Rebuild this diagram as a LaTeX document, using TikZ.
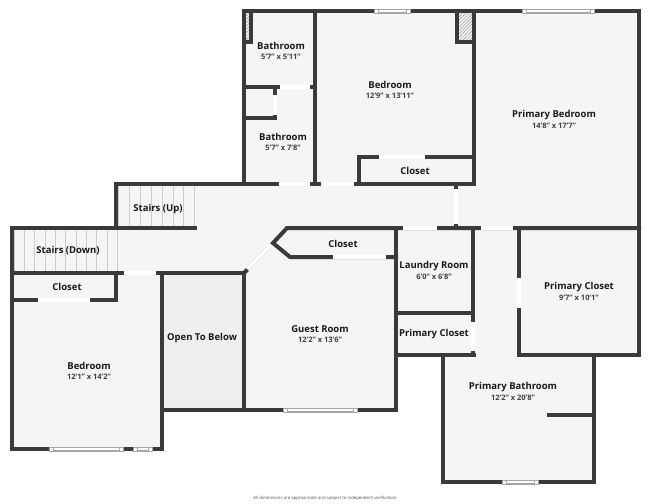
\documentclass[tikz,border=0pt]{standalone}
\usepackage{fontspec}
\setmainfont{Open Sans}
\usetikzlibrary{patterns.meta}
\definecolor{wallgray}{HTML}{3A3A3A}
\definecolor{floorgray}{HTML}{F5F5F5}
\definecolor{opengray}{HTML}{EFEFEF}
\tikzset{
	wall/.style={draw=wallgray, line width=4pt, line cap=rect, line join=miter},
	door/.style={draw=black!18, line width=.4pt, double=white, double distance=3.2pt},
	stair/.style={draw=black!20, line width=.6pt},
	glass/.style={draw=black!35, line width=.4pt, fill=white},
	flue/.style={pattern={Lines[angle=45,distance=2.4pt,line width=.5pt]}, pattern color=black!40},
	title/.style={font=\bfseries\fontsize{9.5}{11}\selectfont, text=black!90, inner sep=0pt, yshift=-.7pt},
	size/.style={font=\fontsize{7.5}{9}\selectfont\bfseries, text=black!75, inner sep=0pt, yshift=-.7pt}
}
\begin{document}
\begin{tikzpicture}[x=1pt, y=-1pt]
	\useasboundingbox (0, 0) rectangle (650, 503);

	\fill[floorgray] (244, 11) -- (639, 11) -- (639, 355) -- (594, 355) -- (594, 482) -- (443, 482) -- (443, 355) -- (396, 355) -- (396, 410) -- (162, 410) -- (162, 449) -- (12, 449) -- (12, 228) -- (116, 228) -- (116, 184) -- (244, 184) -- cycle;
	\fill[opengray] (162, 273) rectangle (244, 410);

	% stairs
	\foreach \x in { 118, 129, 140, 151, 162, 173, 183, 194 }
		\draw[stair] (\x, 184) -- (\x, 228);
	\foreach \x in { 14, 24, 34, 45, 55, 65, 76, 86, 96, 107, 117 }
		\draw[stair] (\x, 228) -- (\x, 273);

	% flues
	\fill[flue] (246, 13) rectangle (250, 41);
	\fill[flue] (459, 13) rectangle (473, 41);

	% walls
	\draw[wall] (244, 184) -- (244, 11) -- (639, 11) -- (639, 355) -- (519, 355) -- (519, 228);
	\draw[wall] (116, 228) -- (116, 184) -- (474, 184) -- (474, 11);
	\draw[wall] (315, 11) -- (315, 184);
	\draw[wall] (251, 11) -- (251, 42) -- (244, 42);
	\draw[wall] (457, 11) -- (457, 42) -- (474, 42);
	\draw[wall] (244, 87) -- (315, 87);
	\draw[wall] (244, 118) -- (275, 118) -- (275, 87);
	\draw[wall] (359, 184) -- (359, 157) -- (474, 157);
	\draw[wall] (456, 184) -- (456, 228);
	\draw[wall] (639, 228) -- (287, 228) -- (273, 243) -- (290, 257) -- (396, 257);
	\draw[wall] (473, 228) -- (473, 355);
	\draw[wall] (396, 228) -- (396, 410) -- (162, 410);
	\draw[wall] (396, 313) -- (473, 313);
	\draw[wall] (396, 355) -- (474, 355);
	\draw[wall] (443, 355) -- (443, 482) -- (594, 482) -- (594, 355);
	\draw[wall] (549, 415) -- (594, 415);
	\draw[wall] (244, 410) -- (244, 273) -- (12, 273);
	\draw[wall] (195, 228) -- (12, 228) -- (12, 449) -- (162, 449) -- (162, 273);
	\draw[wall] (116, 273) -- (116, 300) -- (12, 300);
	\draw[wall] (244, 273) -- (246, 271);

	% doors
	\foreach \xa/\ya/\xb/\yb in { 280/87/310/87, 275/95/275/115, 279/184/310/184, 321/184/354/184, 379/157/425/157,
		456/189/456/224, 403/228/437/228, 481/228/513/228, 333/257/386/257, 519/278/519/308, 473/322/473/351,
		124/273/156/273, 38/300/90/300, 271/245/248/268 }
		\draw[door] (\xa, \ya) -- (\xb, \yb);

	% windows
	\foreach \xa/\xb/\yy in { 374/410/11, 522/594/11, 502/538/482, 283/357/410, 49/123/449, 133/152/449 }
	{
		\fill[white] (\xa, \yy-2) rectangle (\xb, \yy+2);
		\draw[glass] (\xa, \yy-2) rectangle (\xb, \yy+2);
		\draw[glass] ({\xa+4}, \yy-1.5) rectangle ({\xb-4}, \yy+1.5);
	}

	% labels
	\foreach \name/\x/\y/\ttl in { stairsup/158/208/Stairs (Up), stairsdown/68/250/Stairs (Down), closeta/67/286/Closet,
		openbelow/202/337/Open To Below, closetb/415/170/Closet, closetc/343/243/Closet, closetd/434/333/Primary Closet }
		\node[title] (\name) at (\x, \y) {\ttl};
	\foreach \name/\x/\y/\ttl/\dims in { batha/281/45/Bathroom/5'7" x 5'11", bathb/283/136/Bathroom/5'7" x 7'8",
		bedb/390/84/Bedroom/12'9" x 13'11", primary/554/114/Primary Bedroom/14'8" x 17'7",
		laundry/434/265/Laundry Room/6'0" x 6'8", guest/320/328/Guest Room/12'2" x 13'6",
		primarycl/579/286/Primary Closet/9'7" x 10'1", primaryba/513/386/Primary Bathroom/12'2" x 20'8",
		beda/89/365/Bedroom/12'1" x 14'2" }
	{
		\node[title] (\name) at (\x, \y) {\ttl};
		\node[size] (\name dims) at (\x, \y+11) {\dims};
	}
	\node[inner sep=0pt, text=black!70, font=\fontsize{4.3}{5}\selectfont] (footer) at (325, 498) {All dimensions are approximate and subject to independent verification};
\end{tikzpicture}
\end{document}
